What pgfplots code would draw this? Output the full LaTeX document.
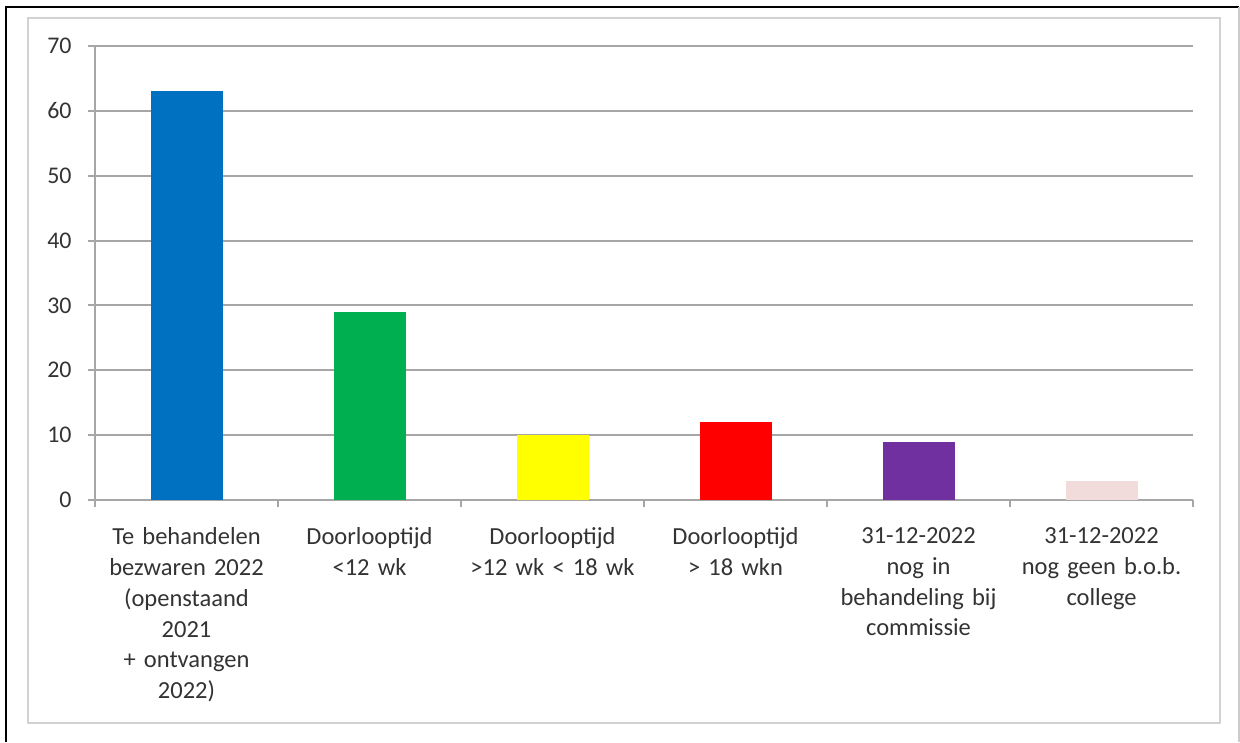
\documentclass[border=0pt]{standalone}
\usepackage{pgfplots}
\pgfplotsset{compat=1.18}
\usepackage{fontspec}
\setmainfont{Carlito}
\definecolor{xlblue}{HTML}{0070C0}
\definecolor{xlgreen}{HTML}{00B050}
\definecolor{xlyellow}{HTML}{FFFF00}
\definecolor{xlred}{HTML}{FF0000}
\definecolor{xlpurple}{HTML}{7030A0}
\definecolor{xlpink}{HTML}{F2DCDB}
\definecolor{gridgray}{HTML}{A6A6A6}
\definecolor{txt}{HTML}{333333}
\begin{document}
\begin{tikzpicture}[x=0.5bp,y=0.5bp]
% page = reference pixels, origin at axis corner (px 95,500)
\useasboundingbox (-95,500) rectangle (1145,-242);
\draw[line width=1.2bp] (-89,-242) -- (-89,493) -- (1144,493);
\draw[gray!40, line width=0.6bp] (1144,493) -- (1144,-242);
\draw[gray!35, line width=1.2bp] (-67,482) rectangle (1125,-223);
\begin{axis}[
    at={(0,0)}, anchor=south west,
    scale only axis,
    width=549bp, height=227bp,
    xmin=-0.5, xmax=5.5,
    ymin=0, ymax=70,
    ytick={0,10,...,70},
    axis lines=left,
    axis line style={gridgray, line width=1bp, -},
    ymajorgrids=true,
    grid style={gridgray, line width=1bp},
    tick align=outside,
    major tick length=3.5bp,
    tick style={gridgray, line width=1bp},
    xtick={0,1,2,3,4,5},
    xtick style={draw=none},
    xticklabels={
        {Te behandelen\\bezwaren 2022\\(openstaand\\2021\\+ ontvangen\\2022)},
        {Doorlooptijd\\<12 wk},
        {Doorlooptijd\\>12 wk < 18 wk},
        {Doorlooptijd\\> 18 wkn},
        {31-12-2022\\nog in\\behandeling bij\\commissie},
        {31-12-2022\\nog geen b.o.b.\\college}},
    extra x ticks={-0.5,0.5,1.5,2.5,3.5,4.5,5.5},
    extra x tick labels={},
    extra x tick style={grid=none, xtick style={draw=gridgray, line width=1bp}},
    x tick label style={font=\fontsize{12.3}{15.5}\selectfont, text=txt,
        align=center, text width=95bp, anchor=north, inner sep=0pt, yshift=-10bp},
    y tick label style={font=\fontsize{12}{14}\selectfont, text=txt,
        anchor=east, inner sep=0pt, xshift=-8bp},
    /pgf/number format/assume math mode=true,
    clip=false,
]
\addplot[ybar, bar width=36bp, bar shift=0pt, fill=xlblue, draw=none] coordinates {(0,63)};
\addplot[ybar, bar width=36bp, bar shift=0pt, fill=xlgreen, draw=none] coordinates {(1,29)};
\addplot[ybar, bar width=36bp, bar shift=0pt, fill=xlyellow, draw=none] coordinates {(2,10)};
\addplot[ybar, bar width=36bp, bar shift=0pt, fill=xlred, draw=none] coordinates {(3,12)};
\addplot[ybar, bar width=36bp, bar shift=0pt, fill=xlpurple, draw=none] coordinates {(4,9)};
\addplot[ybar, bar width=36bp, bar shift=0pt, fill=xlpink, draw=none] coordinates {(5,3)};
\end{axis}
\end{tikzpicture}
\end{document}
